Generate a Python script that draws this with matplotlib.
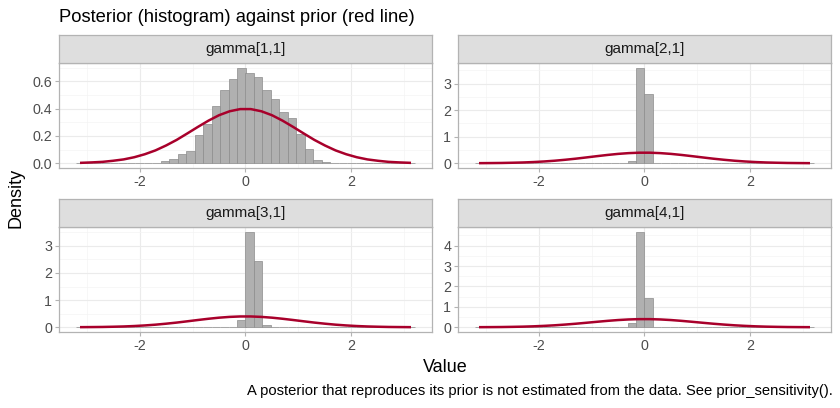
import numpy as np
import matplotlib.pyplot as plt

plt.rcParams['font.family'] = ['Liberation Sans', 'DejaVu Sans']

# histogram bins: 40 bins of width 0.16 between -3.2 and 3.2
bin_lo = -3.2
bin_w = 0.16
n_bins = 40

panels = ['gamma[1,1]', 'gamma[2,1]', 'gamma[3,1]', 'gamma[4,1]']

# non-zero bar heights, keyed by bin index (everything else is 0)
dens_1 = {9: 0.005, 10: 0.017, 11: 0.034, 12: 0.066, 13: 0.09, 14: 0.21,
          15: 0.285, 16: 0.42, 17: 0.54, 18: 0.62, 19: 0.70, 20: 0.66,
          21: 0.63, 22: 0.54, 23: 0.47, 24: 0.375, 25: 0.33, 26: 0.215,
          27: 0.107, 28: 0.024, 29: 0.012, 30: 0.004}
dens_2 = {18: 0.10, 19: 3.60, 20: 2.60, 21: 0.02}
dens_3 = {19: 0.26, 20: 3.52, 21: 2.46, 22: 0.10}
dens_4 = {18: 0.23, 19: 4.68, 20: 1.42, 21: 0.01}
dens_all = [dens_1, dens_2, dens_3, dens_4]

yticks_all = [[0.0, 0.2, 0.4, 0.6], [0, 1, 2, 3], [0, 1, 2, 3], [0, 1, 2, 3, 4]]
ylabels_all = [['0.0', '0.2', '0.4', '0.6'], ['0', '1', '2', '3'],
               ['0', '1', '2', '3'], ['0', '1', '2', '3', '4']]

# prior (red line)
prior_x = [-3.1, -2.9, -2.7, -2.5, -2.3, -2.1, -1.9, -1.7, -1.5, -1.3, -1.1,
           -0.9, -0.7, -0.5, -0.3, -0.1, 0.1, 0.3, 0.5, 0.7, 0.9, 1.1, 1.3,
           1.5, 1.7, 1.9, 2.1, 2.3, 2.5, 2.7, 2.9, 3.1]
prior_y = [0.003, 0.006, 0.010, 0.018, 0.028, 0.044, 0.066, 0.094, 0.130,
           0.171, 0.218, 0.266, 0.312, 0.352, 0.381, 0.397, 0.397, 0.381,
           0.352, 0.312, 0.266, 0.218, 0.171, 0.130, 0.094, 0.066, 0.044,
           0.028, 0.018, 0.010, 0.006, 0.003]

W, H = 840, 408
fig = plt.figure(figsize=(8.4, 4.08), dpi=100)

# pixel boxes (left, top, right, bottom) of the panels
boxes = [(59, 63, 432, 168), (458, 63, 831, 168),
         (59, 227, 432, 332), (458, 227, 831, 332)]
strip_h = 28

edges = bin_lo + bin_w * np.arange(n_bins)
xmin, xmax = bin_lo - 0.32, bin_lo + n_bins * bin_w + 0.32

for i, (l, t, r, b) in enumerate(boxes):
    ax = fig.add_axes([l / W, 1 - b / H, (r - l) / W, (b - t) / H])
    heights = np.zeros(n_bins)
    for k, v in dens_all[i].items():
        heights[k] = v
    ax.bar(edges, heights, width=bin_w, align='edge', color='#b0b0b0',
           edgecolor='#8c8c8c', linewidth=0.5, zorder=2)
    ax.plot(prior_x, prior_y, color='#a8002b', lw=1.8, zorder=3)
    ymax = max(heights.max(), max(prior_y))
    ax.set_ylim(-0.05 * ymax, 1.05 * ymax)
    ax.set_xlim(xmin, xmax)
    ax.set_xticks([-2, 0, 2])
    ax.set_xticks([-3, -1, 1, 3], minor=True)
    yt = yticks_all[i]
    ax.set_yticks(yt)
    ax.set_yticklabels(ylabels_all[i])
    ax.set_yticks([(yt[j] + yt[j + 1]) / 2 for j in range(len(yt) - 1)] +
                  [yt[-1] + (yt[1] - yt[0]) / 2], minor=True)
    ax.set_xticklabels(['-2', '0', '2'])
    ax.grid(which='major', color='#ebebeb', lw=0.8, zorder=0)
    ax.grid(which='minor', color='#f4f4f4', lw=0.5, zorder=0)
    ax.set_axisbelow(True)
    for s in ax.spines.values():
        s.set_color('#b3b3b3')
        s.set_linewidth(0.9)
    ax.tick_params(which='major', length=3, color='#b3b3b3', labelsize=10.3,
                   labelcolor='#4d4d4d', pad=2)
    ax.tick_params(which='minor', length=0)

    # facet strip
    sax = fig.add_axes([l / W, 1 - t / H, (r - l) / W, strip_h / H])
    sax.set_facecolor('#dedede')
    sax.set_xticks([])
    sax.set_yticks([])
    for s in sax.spines.values():
        s.set_color('#b3b3b3')
        s.set_linewidth(0.9)
    sax.text(0.5, 0.5, panels[i], ha='center', va='center', fontsize=11,
             color='#1a1a1a', transform=sax.transAxes)

fig.text(59 / W, 1 - 18 / H, 'Posterior (histogram) against prior (red line)',
         ha='left', va='center', fontsize=13.2, color='black')
fig.text(445 / W, 1 - 367 / H, 'Value', ha='center', va='center', fontsize=13)
fig.text(16 / W, 1 - 198 / H, 'Density', ha='center', va='center',
         fontsize=13, rotation=90)
fig.text(833 / W, 1 - 391 / H,
         'A posterior that reproduces its prior is not estimated from the data. '
         'See prior_sensitivity().',
         ha='right', va='center', fontsize=10.6)

fig.savefig('out.png', dpi=100)
